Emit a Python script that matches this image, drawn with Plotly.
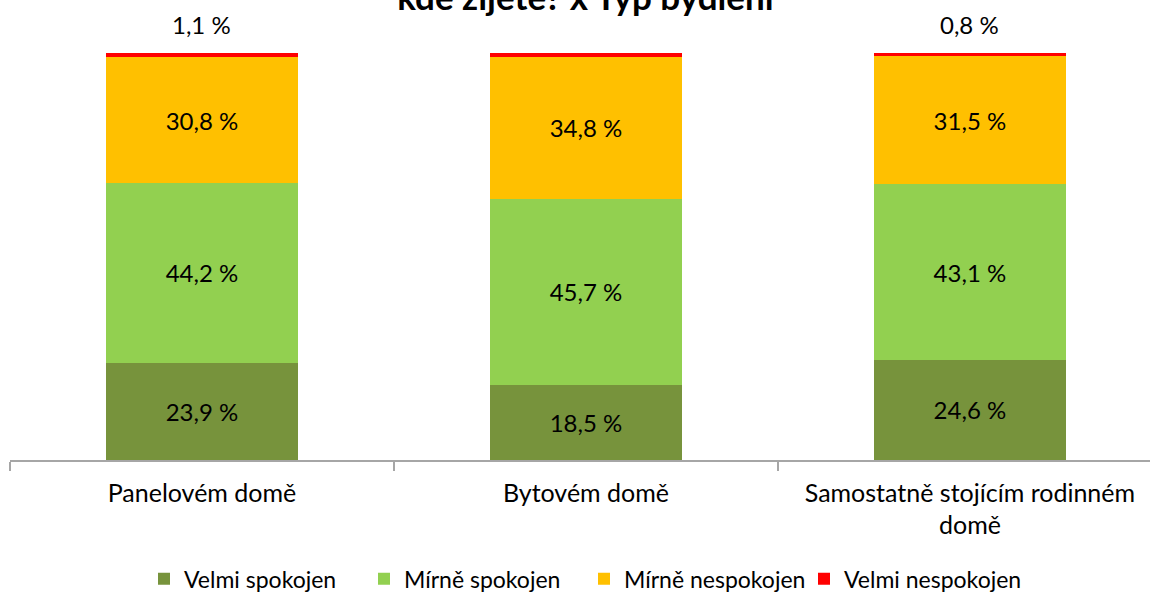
import plotly.graph_objects as go

categories = ["Panelovém domě", "Bytovém domě", "Samostatně stojícím rodinném<br>domě"]
series_names = ["Velmi spokojen", "Mírně spokojen", "Mírně nespokojen", "Velmi nespokojen"]
velmi_spokojen = [23.9, 18.5, 24.6]
mirne_spokojen = [44.2, 45.7, 43.1]
mirne_nespokojen = [30.8, 34.8, 31.5]
velmi_nespokojen = [1.1, 1.1, 0.8]
colors = ["#77933C", "#92D050", "#FFC000", "#FF0000"]
title_text = "kde žijete? x Typ bydlení"

FONT = "Lato"
values = [velmi_spokojen, mirne_spokojen, mirne_nespokojen, velmi_nespokojen]

def fmt(v):
    return f"{v:.1f}".replace(".", ",") + " %"

fig = go.Figure()
for i, (name, vals, col) in enumerate(zip(series_names, values, colors)):
    inside = i < 3
    fig.add_trace(go.Bar(
        x=categories, y=vals, name=name, marker=dict(color=col, line=dict(width=0)),
        text=[fmt(v) for v in vals] if inside else None,
        textposition="inside" if inside else "none",
        insidetextanchor="middle",
        textangle=0,
        insidetextfont=dict(family=FONT, size=24, color="#000000"),
        cliponaxis=False,
    ))

# top labels for the thin red segment
for c, a, b, cc, d in zip(categories, velmi_spokojen, mirne_spokojen, mirne_nespokojen, velmi_nespokojen):
    fig.add_annotation(x=c, y=a + b + cc + d, text=fmt(d), showarrow=False,
                       yanchor="bottom", yshift=12,
                       font=dict(family=FONT, size=24, color="#000000"))

fig.update_layout(
    barmode="stack",
    bargap=0.5,
    width=1150, height=593,
    margin=dict(l=10, r=0, t=53, b=133, autoexpand=False),
    paper_bgcolor="white", plot_bgcolor="white",
    title=dict(text="<b>" + title_text + "</b>", x=0.509, xanchor="center",
               yref="container", y=0.983, yanchor="bottom",
               font=dict(family=FONT, size=35, color="#000000")),
    font=dict(family=FONT, color="#000000"),
    legend=dict(orientation="h", x=0.5 + 4 / 1140, xanchor="center",
                y=-0.292, yanchor="middle",
                font=dict(family=FONT, size=23, color="#000000"),
                traceorder="normal", itemwidth=30,
                entrywidth=175, entrywidthmode="pixels"),
    showlegend=True,
)
fig.update_xaxes(
    type="category", range=[-0.5, 2.469],
    showline=True, linecolor="#a6a6a6", linewidth=1.5,
    ticks="outside", ticklen=9, tickcolor="#a6a6a6", tickwidth=1.5,
    tickson="boundaries", showgrid=False, ticklabelstandoff=10,
    tickfont=dict(family=FONT, size=25, color="#000000"),
)
fig.update_yaxes(range=[0, 100], visible=False, showgrid=False)

fig.write_html("out.html", config={"displayModeBar": False},
               post_script="document.body.style.margin='0';document.body.style.overflow='hidden';")
